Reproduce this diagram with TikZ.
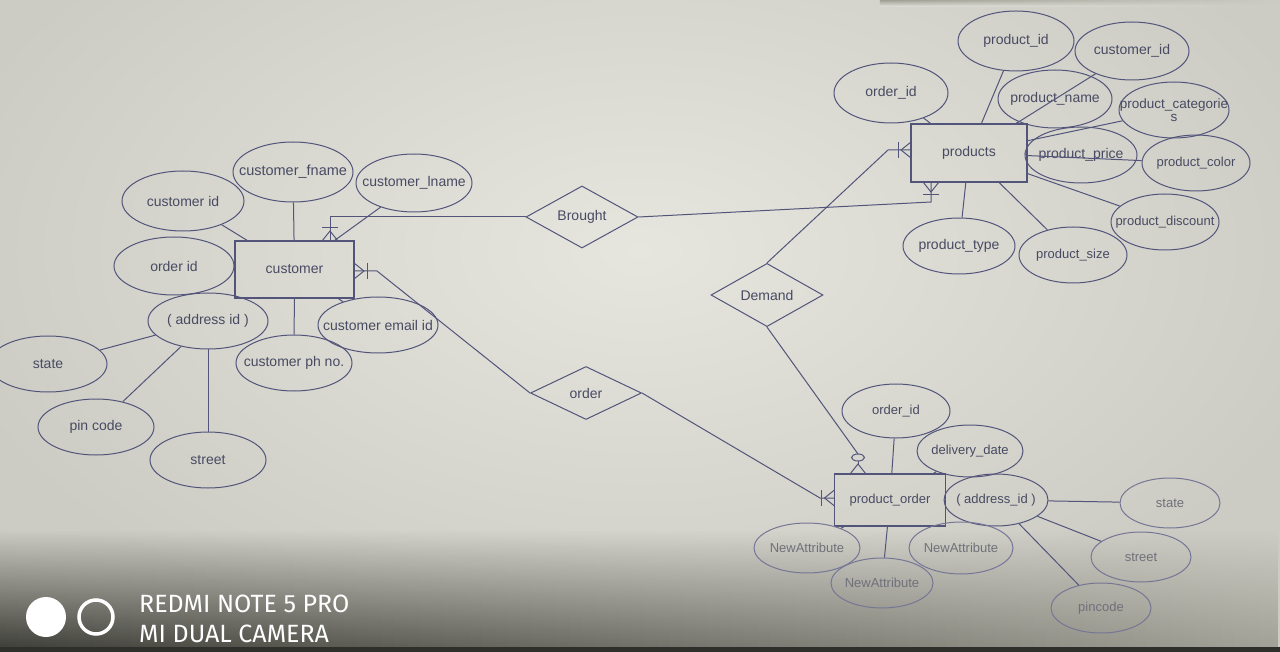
\documentclass[tikz,border=0pt]{standalone}
\usepackage{fontspec}
\setmainfont{Liberation Sans}
\newfontfamily\wmfont{Fira Sans}
\usetikzlibrary{shapes.geometric,fadings}
\definecolor{ink}{RGB}{82,84,122}
\definecolor{txt}{RGB}{72,74,98}
\definecolor{txtlight}{RGB}{112,112,122}
\definecolor{bgmid}{RGB}{204,204,196}
\definecolor{bglight}{RGB}{230,230,223}
\definecolor{darkA}{RGB}{58,58,52}
\definecolor{darkB}{RGB}{160,160,150}
\newcommand\zt[1]{\makebox[0pt]{#1}}
\newcommand\crowmany[2]{%
  \begin{scope}[shift={(#1)}, rotate=#2]
    \draw[link] (13,-8) -- (13,8);
    \draw[link] (0,-8) -- (10,0) -- (0,8);
  \end{scope}}
\newcommand\crowzero[2]{%
  \begin{scope}[shift={(#1)}, rotate=#2]
    \draw[link] (16.5,0) ellipse [x radius=3.5, y radius=6.5];
    \draw[link] (0,-8) -- (10,0) -- (0,8);
    \draw[link] (10,0) -- (13,0);
  \end{scope}}
\begin{document}
\begin{tikzpicture}[x=1pt,y=-1pt,
  link/.style={draw=ink, line width=1pt},
  attr/.style 2 args={draw=ink, ellipse, inner sep=0pt, line width=1pt, text=txt,
    minimum width=#1pt, minimum height=#2pt, font=\fontsize{14}{16}\selectfont},
  ent/.style 2 args={draw=ink, rectangle, inner sep=0pt, line width=1.1pt, text=txt,
    minimum width=#1pt, minimum height=#2pt, font=\fontsize{14}{16}\selectfont},
  rel/.style 2 args={draw=ink, diamond, inner sep=0pt, line width=1pt, text=txt,
    minimum width=#1pt, minimum height=#2pt, font=\fontsize{14}{16}\selectfont},
  small/.style={font=\fontsize{13}{15}\selectfont},
  faint/.style={text=txtlight, draw=ink!80}]
\useasboundingbox (0,0) rectangle (1280,652);
% background (photo of a screen)
\fill[bgmid] (0,0) rectangle (1280,652);
\shade[inner color=bglight, outer color=bgmid] (640,250) ellipse [x radius=720, y radius=420];
\shade[left color=darkA, right color=darkB, path fading=north] (0,530) rectangle (1280,652);
\fill[darkA!80!black] (0,647) rectangle (1280,652);
\shade[top color=darkB, bottom color=bglight, path fading=east] (880,0) rectangle (1280,7);

% ---------- customer ----------
\node[ent={119}{57}] (cust) at (294.5,269.5) {customer};
\node[attr={122}{60}] (cid) at (183,201) {\zt{customer id}};
\node[attr={120}{60}, font=\fontsize{14.5}{16}\selectfont] (cfn) at (293,172) {\zt{customer\_fname}};
\node[attr={116}{58}] (cln) at (414,183) {\zt{customer\_lname}};
\node[attr={120}{58}] (coid) at (174,266) {\zt{order id}};
\node[attr={120}{56}] (caid) at (208,321) {\zt{( address id )}};
\node[attr={120}{56}] (cem) at (378,325) {\zt{customer email id}};
\node[attr={116}{56}] (cph) at (294,363) {\zt{customer ph no.}};
\node[attr={118}{56}] (cst) at (48,364) {\zt{state}};
\node[attr={116}{56}] (cpin) at (96,427) {\zt{pin code}};
\node[attr={116}{56}] (cstr) at (208,460) {\zt{street}};
\foreach \a in {cid,cfn,cln,coid,caid,cem,cph} \draw[link] (\a) -- (cust);
\foreach \a in {cst,cpin,cstr} \draw[link] (\a) -- (caid);

% ---------- relationships ----------
\node[rel={112}{55}] (brought) at (582,217) {Brought};
\node[rel={112}{54}] (demand) at (767,295) {Demand};
\node[rel={111}{53}] (order) at (586,393) {order};

% ---------- products ----------
\node[ent={116}{58}] (prod) at (969,153) {products};
\node[attr={114}{60}] (poid) at (891,93) {\zt{order\_id}};
\node[attr={116}{60}] (ppid) at (1016,41) {\zt{product\_id}};
\node[attr={114}{58}] (pcid) at (1132,51) {\zt{customer\_id}};
\node[attr={114}{58}] (pname) at (1055,99) {\zt{product\_name}};
\node[attr={110}{56}, font=\fontsize{13.5}{13}\selectfont] (pcat) at (1174,110) {\zt{\shortstack{product\_categorie\\s}}};
\node[attr={112}{56}] (pprice) at (1081,155) {\zt{product\_price}};
\node[attr={108}{56}, small] (pcolor) at (1196,163) {\zt{product\_color}};
\node[attr={108}{56}, small] (pdisc) at (1165,222) {\zt{product\_discount}};
\node[attr={108}{56}, small] (psize) at (1073,255) {\zt{product\_size}};
\node[attr={112}{56}] (ptype) at (959,246) {\zt{product\_type}};
\foreach \a in {poid,ppid,pcid,pname,pcat,pcolor,pprice,pdisc,psize,ptype} \draw[link] (\a) -- (prod);

% ---------- product_order ----------
\node[ent={111}{52}, small] (po) at (890,500) {product\_order};
\node[attr={108}{54}, small] (ooid) at (896,411) {\zt{order\_id}};
\node[attr={106}{52}, small] (odd) at (970,451) {\zt{delivery\_date}};
\node[attr={104}{52}, small] (oaid) at (996,500) {\zt{( address\_id )}};
\node[attr={100}{50}, small, faint] (ost) at (1170,503) {\zt{state}};
\node[attr={100}{50}, small, faint] (ostr) at (1141,557) {\zt{street}};
\node[attr={100}{50}, small, faint] (opin) at (1101,608) {\zt{pincode}};
\node[attr={106}{50}, small, faint] (ona1) at (807,548) {\zt{NewAttribute}};
\node[attr={102}{50}, small, faint] (ona2) at (882,583) {\zt{NewAttribute}};
\node[attr={104}{52}, small, faint] (ona3) at (961,548) {\zt{NewAttribute}};
\foreach \a in {ooid,odd,oaid,ona1,ona2,ona3} \draw[link] (\a) -- (po);
\foreach \a in {ost,ostr,opin} \draw[link] (\a) -- (oaid);

% ---------- connectors with cardinalities ----------
\coordinate (cTop) at (330,241);
\coordinate (bendA) at (330,217);
\coordinate (pBot) at (931,182);
\coordinate (bendB) at (931,202);
\coordinate (cRight) at (354,271);
\coordinate (bendC) at (377,271);
\coordinate (poLeft) at (834.5,498);
\coordinate (bendD) at (820,498);
\coordinate (pLeft) at (911,150);
\coordinate (bendE) at (888,150);
\coordinate (poTop) at (858,474);
\coordinate (poTopEnd) at (858,454);

\draw[link] (brought.west) -- (bendA) -- (cTop);
\draw[link] (brought.east) -- (bendB) -- (pBot);
\draw[link] (cRight) -- (bendC) -- (order.west);
\draw[link] (order.east) -- (bendD) -- (poLeft);
\draw[link] (demand.north) -- (bendE) -- (pLeft);
\draw[link] (demand.south) -- (poTopEnd);

\crowmany{cTop}{90}
\crowmany{pBot}{270}
\crowmany{cRight}{0}
\crowmany{poLeft}{180}
\crowmany{pLeft}{180}
\crowzero{poTop}{90}

% ---------- camera watermark ----------
\fill[white] (46,617) circle [radius=20];
\draw[white, line width=3.5pt] (96,617) circle [radius=17];
\node[anchor=base west, inner sep=0pt, text=white, font=\wmfont\fontsize{25}{28}\selectfont] (wm1) at (139,612) {REDMI NOTE 5 PRO};
\node[anchor=base west, inner sep=0pt, text=white, font=\wmfont\fontsize{25}{28}\selectfont] (wm2) at (139,642) {MI DUAL CAMERA};
\end{tikzpicture}
\end{document}
